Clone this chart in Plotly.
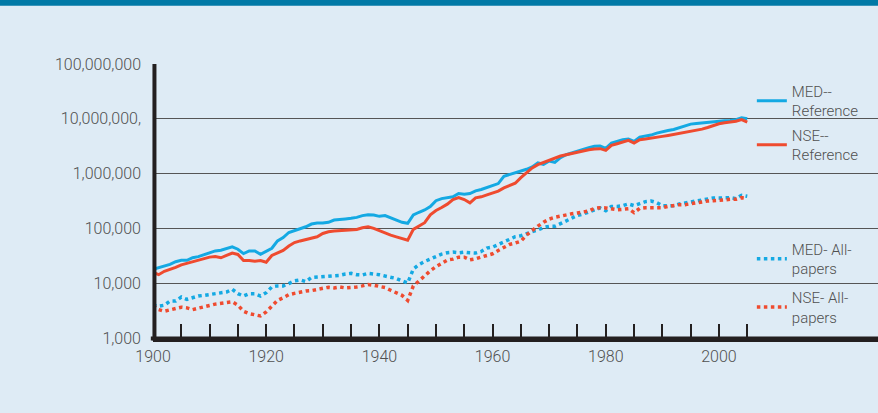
import plotly.graph_objects as go

years = list(range(1900, 2006))

med_reference = [
    17900, 19100, 20500, 22100, 24700, 26100, 26100, 29200, 30500, 32800,
    35600, 38800, 39900, 42800, 46000, 41700, 34700, 38800, 38800, 33700,
    37700, 43500, 59300, 68200, 84300, 90500, 97200, 107000, 120000, 125000,
    125000, 129000, 142000, 144000, 149000, 153000, 159000, 171000, 178000, 176000,
    166000, 171000, 155000, 138000, 129000, 124000, 176000, 197000, 217000, 250000,
    320000, 350000, 361000, 377000, 433000, 421000, 433000, 484000, 512000, 556000,
    589000, 658000, 895000, 959000, 1028000, 1102000, 1199000, 1321000, 1563000, 1479000,
    1698000, 1607000, 1954000, 2213000, 2410000, 2582000, 2767000, 2972000, 3141000, 3184000,
    2891000, 3614000, 3873000, 4150000, 4266000, 3873000, 4645000, 4842000, 5047000, 5483000,
    5888000, 6138000, 6397000, 6855000, 7464000, 7998000, 8222000, 8453000, 8690000, 8954000,
    9078000, 9204000, 9333000, 9661000, 10470000, 10000000,
]

nse_reference = [
    15800, 14300, 16500, 17700, 19500, 21600, 23100, 24800, 26300, 27900,
    29900, 30800, 29100, 32100, 35400, 33500, 25900, 25900, 25200, 25900,
    24200, 32100, 35400, 39700, 47800, 55100, 59100, 62700, 65300, 70200,
    80900, 86900, 89300, 90600, 90600, 91900, 95900, 103000, 107000, 100000,
    90600, 84400, 75300, 70200, 66200, 60800, 95900, 111000, 127000, 177000,
    212000, 241000, 277000, 336000, 366000, 336000, 293000, 361000, 377000, 409000,
    445000, 478000, 548000, 605000, 667000, 845000, 1028000, 1268000, 1459000, 1607000,
    1722000, 1901000, 2094000, 2213000, 2344000, 2443000, 2582000, 2729000, 2805000, 2851000,
    2655000, 3273000, 3508000, 3767000, 4036000, 3614000, 4150000, 4266000, 4385000, 4581000,
    4775000, 4977000, 5188000, 5408000, 5728000, 6053000, 6310000, 6486000, 6950000, 7568000,
    8110000, 8453000, 8690000, 9016000, 9661000, 8710000,
]

med_all_papers = [
    3970, 3810, 3970, 4710, 4710, 5580, 5060, 5430, 5830, 6000,
    6170, 6350, 6530, 6910, 7750, 6440, 5830, 6440, 6440, 5830,
    6710, 8550, 8930, 8930, 9860, 11000, 11500, 10700, 12700, 12900,
    13100, 13100, 13500, 13900, 14700, 15100, 14300, 14100, 15100, 14900,
    14300, 13500, 12900, 12200, 11000, 10100, 18200, 21900, 24900, 27900,
    31000, 34000, 36000, 36900, 35900, 36900, 35900, 35400, 37900, 43700,
    45600, 51000, 57800, 63800, 70400, 73400, 81000, 86900, 93300, 104000,
    109000, 109000, 122000, 138000, 159000, 173000, 183000, 199000, 223000, 236000,
    210000, 252000, 252000, 260000, 279000, 260000, 283000, 308000, 316000, 295000,
    260000, 264000, 260000, 279000, 290000, 299000, 312000, 325000, 344000, 359000,
    359000, 359000, 364000, 349000, 402000, 385000,
]

nse_all_papers = [
    3920, 3300, 3080, 3300, 3450, 3650, 3550, 3300, 3500, 3650,
    3920, 4150, 4330, 4450, 4580, 3970, 3080, 2790, 2670, 2520,
    2990, 3810, 4850, 5430, 6170, 6530, 6910, 7210, 7320, 7750,
    8080, 8440, 8200, 8550, 8200, 8320, 8550, 8930, 9460, 9190,
    8680, 8320, 7430, 6710, 6000, 4850, 8930, 11000, 13700, 16900,
    20000, 23000, 26500, 27500, 29900, 29900, 26700, 27900, 29900, 33000,
    34400, 39600, 45600, 51000, 53900, 58600, 75500, 91800, 110000, 129000,
    148000, 159000, 168000, 180000, 185000, 191000, 202000, 208000, 232000, 239000,
    236000, 226000, 219000, 223000, 229000, 194000, 232000, 239000, 239000, 245000,
    239000, 252000, 264000, 271000, 271000, 283000, 290000, 308000, 316000, 321000,
    330000, 334000, 339000, 339000, 364000, 354000,
]

series_names = ["MED--<br>Reference", "NSE--<br>Reference", "MED- All-<br>papers", "NSE- All-<br>papers"]

x_tick_vals = [1900, 1905, 1910, 1915, 1920, 1925, 1930, 1935, 1940, 1945, 1950,
               1955, 1960, 1965, 1970, 1975, 1980, 1985, 1990, 1995, 2000, 2005]
x_tick_text = ["1900", "", "", "", "1920", "", "", "", "1940", "", "",
               "", "1960", "", "", "", "1980", "", "", "", "2000", ""]
y_tick_vals = [1e3, 1e4, 1e5, 1e6, 1e7, 1e8]
y_tick_text = ["1,000", "10,000", "100,000", "1,000,000", "10,000,000,", "100,000,000"]

BLUE = "#14a9e3"
RED = "#ef4b2f"
BG = "#deebf5"
TXT = "#505050"
AX = "#231f20"
FONT = "Roboto, Liberation Sans, sans-serif"
CLEAR = "rgba(0,0,0,0)"

fig = go.Figure()
fig.add_trace(go.Scatter(x=years, y=med_reference, mode="lines", name=series_names[0],
                         line=dict(color=BLUE, width=3), legend="legend"))
fig.add_trace(go.Scatter(x=years, y=nse_reference, mode="lines", name=series_names[1],
                         line=dict(color=RED, width=3), legend="legend2"))
fig.add_trace(go.Scatter(x=years, y=med_all_papers, mode="lines", name=series_names[2],
                         line=dict(color=BLUE, width=3.5, dash="dot"), legend="legend3"))
fig.add_trace(go.Scatter(x=years, y=nse_all_papers, mode="lines", name=series_names[3],
                         line=dict(color=RED, width=3.5, dash="dot"), legend="legend4"))

def leg(y):
    return dict(x=0.826, y=y, xanchor="left", yanchor="middle", bgcolor=CLEAR,
                borderwidth=0, font=dict(family=FONT, size=15, color=TXT, weight=300),
                valign="middle", itemclick=False, itemdoubleclick=False)

fig.update_layout(
    width=878, height=413,
    margin=dict(l=153, r=0, t=64, b=75),
    paper_bgcolor=BG, plot_bgcolor=BG,
    font=dict(family=FONT, size=16, color=TXT, weight=300),
    showlegend=True,
    legend=leg(0.866),
    legend2=leg(0.705),
    legend3=leg(0.289),
    legend4=leg(0.113),
    modebar=dict(bgcolor=CLEAR, color=CLEAR, activecolor=CLEAR),
    xaxis=dict(range=[1900, 2028.1], showline=True, linewidth=4, linecolor=AX,
               tickvals=x_tick_vals, ticktext=x_tick_text, ticks="inside", ticklen=14,
               tickwidth=1.5, tickcolor=AX, showgrid=False, zeroline=False,
               tickfont=dict(family=FONT, size=16, color=TXT, weight=300), ticklabelstandoff=1),
    yaxis=dict(type="log", range=[3, 8], showline=False,
               tickvals=y_tick_vals, ticktext=y_tick_text, ticks="",
               showgrid=True, gridcolor="#555555", gridwidth=1, zeroline=False,
               tickfont=dict(family=FONT, size=16, color=TXT, weight=300), ticklabelstandoff=11),
    shapes=[
        dict(type="rect", xref="paper", yref="paper", x0=-0.25, x1=1.02,
             y0=1.2128, y1=1.26, fillcolor="#0079a6", line=dict(width=0), layer="above"),
        dict(type="line", xref="paper", yref="paper", x0=-0.003, x1=1.0, y0=-0.002, y1=-0.002,
             line=dict(color=AX, width=4), layer="above"),
        dict(type="line", xref="paper", yref="paper", x0=0.002, x1=0.002, y0=-0.009, y1=1.0,
             line=dict(color=AX, width=4), layer="above"),
    ],
)

fig.write_html("out.html",
               post_script="document.body.style.margin='0';"
                           "var mb=document.querySelector('.modebar-container');"
                           "if(mb){mb.style.display='none';}")
